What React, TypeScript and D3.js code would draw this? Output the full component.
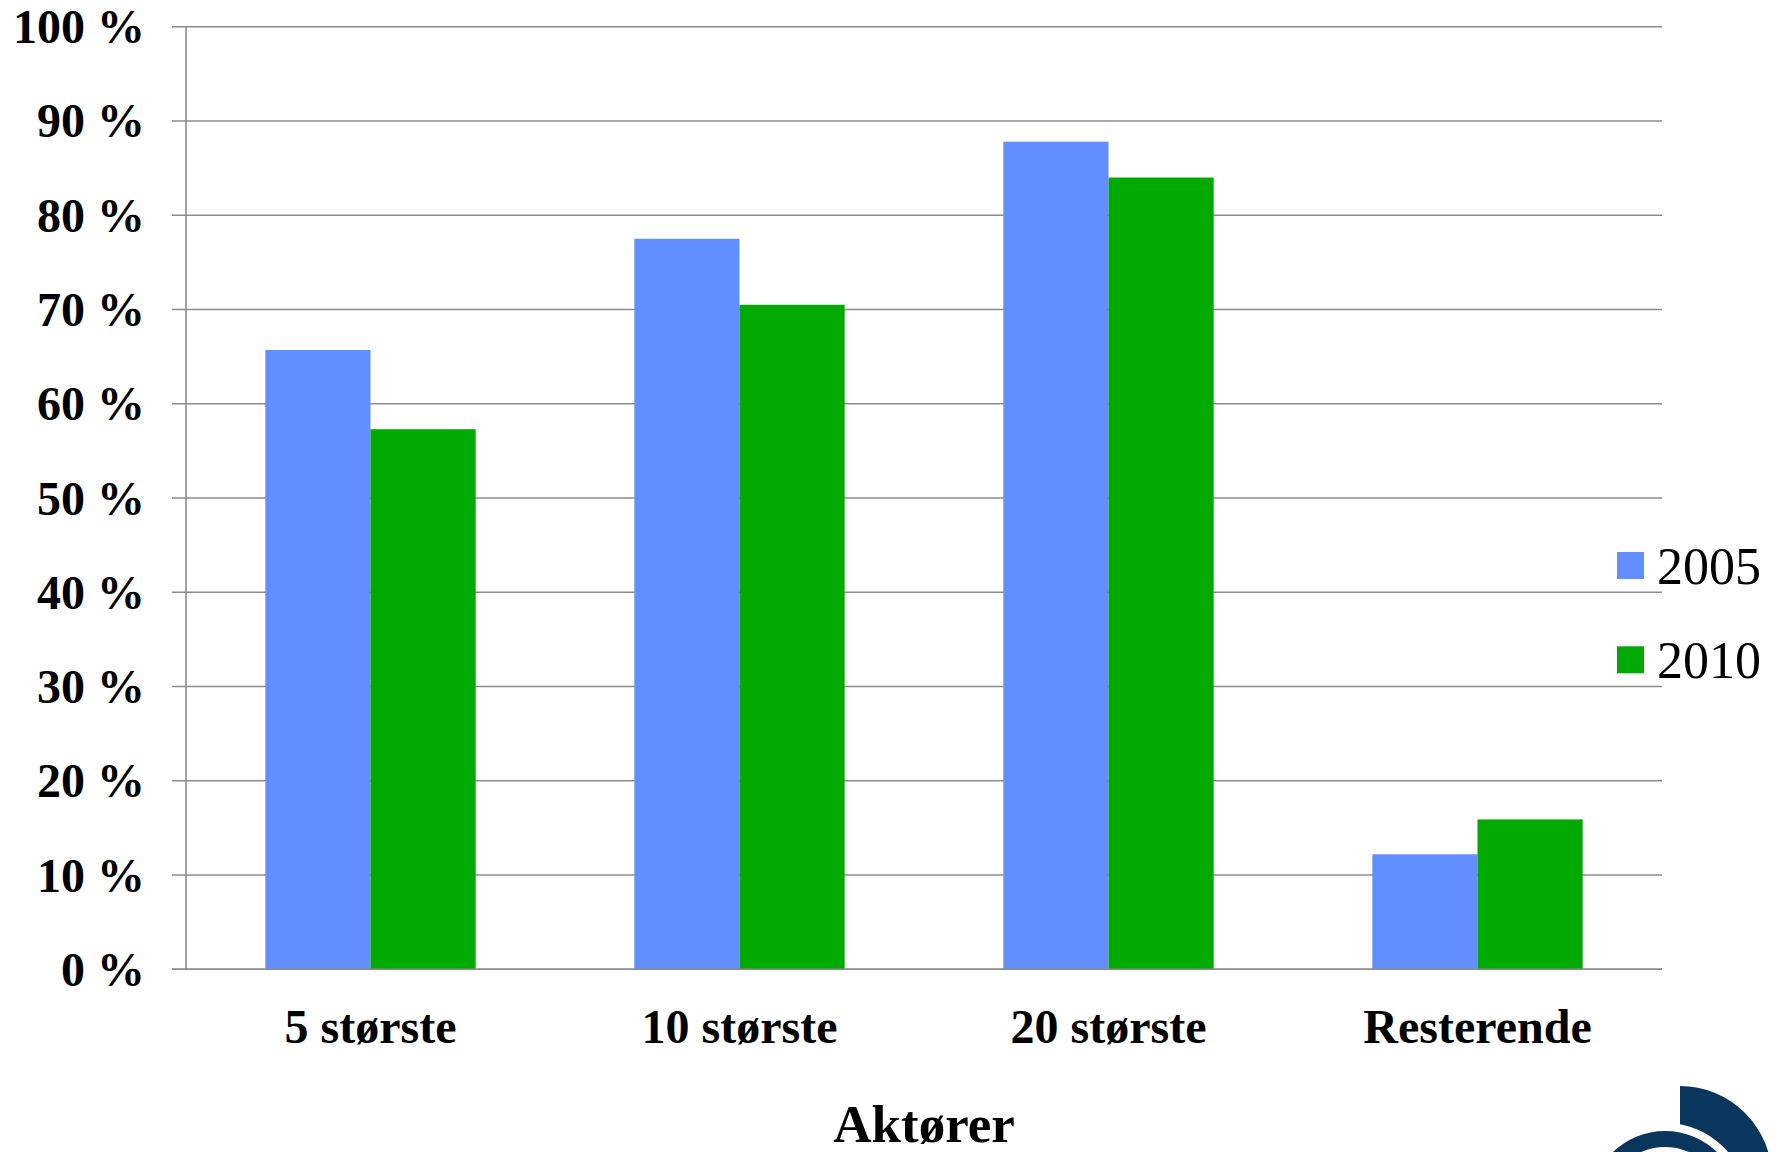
import React from "react";
import * as d3 from "d3";

const categories = ["5 største", "10 største", "20 største", "Resterende"];
const seriesNames = ["2005", "2010"];
const values2005 = [65.7, 77.5, 87.8, 12.2];
const values2010 = [57.3, 70.5, 84.0, 15.9];
const yTicks = [0, 10, 20, 30, 40, 50, 60, 70, 80, 90, 100];
const colors = ["#628EFF", "#00AA00"];
const axisTitle = "Aktører";

const W = 1780;
const H = 1152;
const plot = { left: 186, right: 1662, top: 26.7, bottom: 969.3 };
const FONT = "'Liberation Serif', 'Times New Roman', Times, serif";

export default function App() {
  const x = d3
    .scaleBand<string>()
    .domain(categories)
    .range([plot.left, plot.right])
    .paddingInner(0.43)
    .paddingOuter(0.215);
  const x1 = d3.scaleBand<string>().domain(seriesNames).range([0, x.bandwidth()]).padding(0);
  const y = d3.scaleLinear().domain([0, 100]).range([plot.bottom, plot.top]);
  const series = [values2005, values2010];

  const outerArc = d3.arc<any>()({
    innerRadius: 0,
    outerRadius: 92,
    startAngle: 0,
    endAngle: Math.PI,
  } as any) as string;
  const ringArc = d3.arc<any>()({
    innerRadius: 59,
    outerRadius: 75,
    startAngle: 0,
    endAngle: 2 * Math.PI,
  } as any) as string;

  return (
    <div style={{ position: "absolute", left: 0, top: 0 }}>
      <svg width={W} height={H} style={{ display: "block", background: "#fff" }}>
        {/* gridlines */}
        {yTicks.map((t) => (
          <line
            key={"g" + t}
            x1={172}
            x2={plot.right}
            y1={y(t)}
            y2={y(t)}
            stroke="#8c8c8c"
            strokeWidth={1.6}
          />
        ))}
        {/* y axis line */}
        <line x1={plot.left} x2={plot.left} y1={plot.top} y2={plot.bottom} stroke="#8c8c8c" strokeWidth={1.6} />
        {/* y tick labels */}
        {yTicks.map((t) => (
          <text
            key={"t" + t}
            x={145}
            y={y(t) + 16.5}
            textAnchor="end"
            fontFamily={FONT}
            fontWeight="bold"
            fontSize={48}
            fill="#000"
          >
            {t + " %"}
          </text>
        ))}
        {/* bars */}
        {categories.map((c, i) => (
          <g key={c} transform={`translate(${x(c)},0)`}>
            {series.map((vals, s) => (
              <rect
                key={s}
                x={x1(seriesNames[s])}
                y={y(vals[i])}
                width={x1.bandwidth()}
                height={y(0) - y(vals[i])}
                fill={colors[s]}
              />
            ))}
          </g>
        ))}
        {/* baseline redraw */}
        <line x1={172} x2={plot.right} y1={y(0)} y2={y(0)} stroke="#8c8c8c" strokeWidth={1.6} />
        {/* category labels */}
        {categories.map((c) => (
          <text
            key={"c" + c}
            x={(x(c) as number) + x.bandwidth() / 2}
            y={1043.3}
            textAnchor="middle"
            fontFamily={FONT}
            fontWeight="bold"
            fontSize={48}
            fill="#000"
          >
            {c}
          </text>
        ))}
        {/* axis title */}
        <text x={924} y={1142} textAnchor="middle" fontFamily={FONT} fontWeight="bold" fontSize={53} fill="#000">
          {axisTitle}
        </text>
        {/* legend */}
        {seriesNames.map((n, i) => (
          <g key={"l" + n} transform={`translate(1617,${552 + i * 94.3})`}>
            <rect x={0} y={0} width={27} height={27} fill={colors[i]} />
            <text x={40} y={32} fontFamily={FONT} fontSize={52} fill="#000">
              {n}
            </text>
          </g>
        ))}
        {/* logo */}
        <g>
          <path d={outerArc} transform="translate(1680,1178)" fill="#0a365e" />
          <circle cx={1665} cy={1206} r={83} fill="#fff" />
          <path d={ringArc} transform="translate(1665,1206)" fill="#0a365e" />
        </g>
      </svg>
    </div>
  );
}
